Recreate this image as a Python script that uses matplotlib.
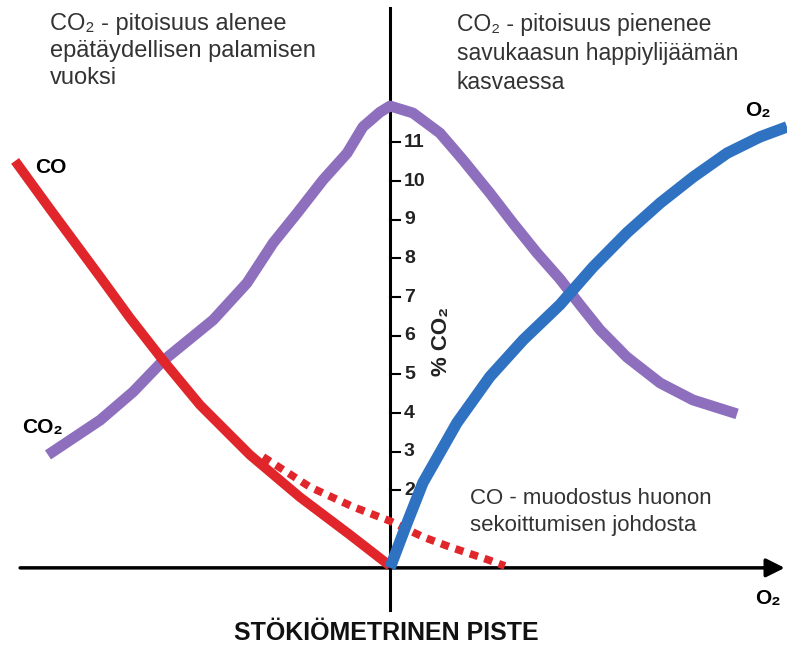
import matplotlib
matplotlib.use("Agg")
import matplotlib.pyplot as plt

plt.rcParams['font.family'] = ['Liberation Sans', 'DejaVu Sans']

# Data (x: arbitrary O2 scale, stoichiometric point at 0; y: % CO2 scale)
co_x = [-9.69, -8.79, -7.49, -6.72, -5.87, -4.91, -3.62, -2.33, -1.03, 0.0]
co_y = [10.52, 9.28, 7.52, 6.46, 5.37, 4.21, 2.92, 1.83, 0.85, 0.05]

co2_x = [-8.84, -7.49, -6.64, -5.87, -4.57, -3.70, -3.02, -2.40, -1.73, -1.11,
         -0.70, -0.26, 0.0, 0.59, 1.29, 1.89, 2.58, 3.18, 3.80, 4.39, 4.91, 5.43,
         6.12, 6.98, 7.83, 8.97]
co2_y = [2.92, 3.82, 4.55, 5.35, 6.41, 7.36, 8.40, 9.17, 10.03, 10.72,
         11.40, 11.78, 11.94, 11.76, 11.24, 10.54, 9.69, 8.91, 8.14, 7.47, 6.80, 6.15,
         5.45, 4.78, 4.34, 3.98]

o2_x = [0.0, 0.44, 0.85, 1.73, 2.58, 3.44, 4.39, 5.25, 6.12, 6.98, 7.83, 8.71, 9.56, 10.26]
o2_y = [0.0, 1.16, 2.20, 3.75, 4.94, 5.89, 6.80, 7.78, 8.66, 9.43, 10.10, 10.72, 11.14, 11.40]

co_mix_x = [-3.28, -2.07, -0.96, 0.0, 0.85, 1.55, 2.53, 2.97]
co_mix_y = [2.87, 2.09, 1.58, 1.21, 0.80, 0.54, 0.21, 0.05]

yticks = [2, 3, 4, 5, 6, 7, 8, 9, 10, 11]

fig = plt.figure(figsize=(7.87, 6.46), dpi=100)
ax = fig.add_axes([0, 0, 1, 1])
ax.set_xlim(-10.08, 10.26)
ax.set_ylim(-2.02, 14.68)
ax.axis('off')

# axes lines
ax.plot([0, 0], [-1.08, 14.47], color='black', lw=2.2, zorder=1)
ax.annotate('', xy=(10.2, 0), xytext=(-9.56, 0),
            arrowprops=dict(arrowstyle='-|>', lw=2.5, color='black',
                            mutation_scale=28, shrinkA=0, shrinkB=0), zorder=1)

# ticks
for t in yticks:
    ax.plot([0, 0.26], [t, t], color='black', lw=1.5, zorder=1)
    ax.text(0.36, t, str(t), ha='left', va='center', fontsize=14,
            fontweight='bold', color='#222222', zorder=1)

ax.text(1.34, 5.84, '% CO₂', rotation=90, ha='center', va='center',
        fontsize=16, fontweight='bold', color='#222222')

# curves
ax.plot(co2_x, co2_y, color='#8e6fbd', lw=7.8, solid_capstyle='butt',
        solid_joinstyle='round', zorder=2)
ax.plot(co_x, co_y, color='#e0262b', lw=7, solid_capstyle='butt',
        solid_joinstyle='round', zorder=3)
ax.plot(co_mix_x, co_mix_y, color='#e0262b', lw=5.5, linestyle=(0, (1.1, 0.9)),
        zorder=3)
ax.plot(o2_x, o2_y, color='#2f72c2', lw=8.2, solid_capstyle='butt',
        solid_joinstyle='round', zorder=4)

# labels
txtc = '#333333'
ax.text(-8.8, 14.35, 'CO₂ - pitoisuus alenee\nepätäydellisen palamisen\nvuoksi',
        ha='left', va='top', fontsize=17, color=txtc, linespacing=1.3)
ax.text(1.73, 14.35, 'CO₂ - pitoisuus pienenee\nsavukaasun happiylijäämän\nkasvaessa',
        ha='left', va='top', fontsize=16.5, color=txtc, linespacing=1.35)
ax.text(2.07, 1.45, 'CO - muodostus huonon\nsekoittumisen johdosta',
        ha='left', va='center', fontsize=16, color=txtc, linespacing=1.35)

ax.text(-9.17, 10.36, 'CO', ha='left', va='center', fontsize=15, fontweight='bold')
ax.text(-9.51, 3.62, 'CO₂', ha='left', va='center', fontsize=15, fontweight='bold')
ax.text(9.17, 11.83, 'O₂', ha='left', va='center', fontsize=15, fontweight='bold')
ax.text(9.43, -0.78, 'O₂', ha='left', va='center', fontsize=15, fontweight='bold')
ax.text(-0.1, -1.68, 'STÖKIÖMETRINEN PISTE', ha='center', va='center',
        fontsize=18, fontweight='bold', color='#111111')

fig.savefig('out.png', dpi=100)
